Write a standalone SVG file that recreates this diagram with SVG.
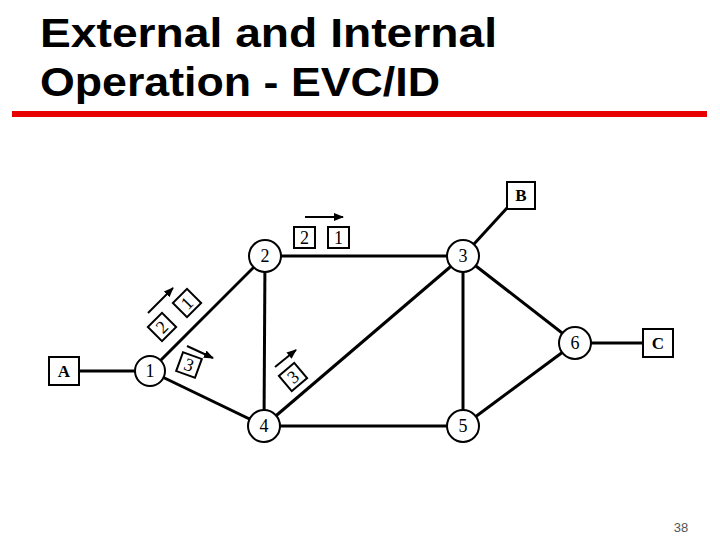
<svg xmlns="http://www.w3.org/2000/svg" width="720" height="540" viewBox="0 0 720 540">
<defs>
<style>
.title{font-family:"Liberation Sans",Arial,sans-serif;font-weight:bold;font-size:41px;fill:#000}
.edge{stroke:#000;stroke-width:3;fill:none}
.node circle{fill:#fff;stroke:#000;stroke-width:2}
.node rect,.lbl rect{fill:#fff;stroke:#000;stroke-width:2}
.t{font-family:"Liberation Serif","Times New Roman",serif;font-size:18px;fill:#000;text-anchor:middle;dominant-baseline:central}
.tb{font-family:"Liberation Serif","Times New Roman",serif;font-size:17px;font-weight:bold;fill:#000;text-anchor:middle;dominant-baseline:central}
.arr{stroke:#000;stroke-width:2;fill:none;marker-end:url(#ah)}
</style>
<marker id="ah" viewBox="0 0 10 10" refX="9" refY="5" markerWidth="5" markerHeight="5" orient="auto" markerUnits="strokeWidth">
<path d="M0,1 L10,5 L0,9 z" fill="#000"/>
</marker>
</defs>
<rect width="720" height="540" fill="#fff"/>
<text class="title" x="40" y="47" textLength="457" lengthAdjust="spacingAndGlyphs">External and Internal</text>
<text class="title" x="40" y="96" textLength="400" lengthAdjust="spacingAndGlyphs">Operation - EVC/ID</text>
<rect x="12" y="111" width="695" height="6" fill="#e80000"/>

<g id="connectors">
<line class="edge" x1="79" y1="371" x2="135" y2="371"/>
<line class="edge" x1="150" y1="371" x2="265" y2="256"/>
<line class="edge" x1="150" y1="371" x2="264" y2="426"/>
<line class="edge" x1="265" y1="256" x2="463" y2="256"/>
<line class="edge" x1="265" y1="256" x2="264" y2="426"/>
<line class="edge" x1="463" y1="256" x2="264" y2="426"/>
<line class="edge" x1="463" y1="256" x2="463" y2="426"/>
<line class="edge" x1="463" y1="256" x2="575" y2="343"/>
<line class="edge" x1="463" y1="256" x2="507" y2="208"/>
<line class="edge" x1="264" y1="426" x2="463" y2="426"/>
<line class="edge" x1="463" y1="426" x2="575" y2="343"/>
<line class="edge" x1="575" y1="343" x2="643" y2="343"/>
</g>

<g id="labels" class="lbl">
<line class="arr" x1="305" y1="217" x2="343" y2="217"/>
<rect x="294" y="227" width="21" height="21"/><text class="t" x="304.5" y="237.5">2</text>
<rect x="328" y="227" width="21" height="21"/><text class="t" x="338.5" y="237.5">1</text>
<line class="arr" x1="148" y1="313" x2="173" y2="288"/>
<g transform="translate(187,303) rotate(-45)"><rect x="-10" y="-10" width="20" height="20"/><text class="t" x="0" y="0">1</text></g>
<g transform="translate(162,327) rotate(-45)"><rect x="-10" y="-10" width="20" height="20"/><text class="t" x="0" y="0">2</text></g>
<line class="arr" x1="187" y1="346" x2="213" y2="358"/>
<g transform="translate(189,365) rotate(20)"><rect x="-10" y="-10" width="20" height="20"/><text class="t" x="0" y="0">3</text></g>
<line class="arr" x1="275" y1="367" x2="296" y2="350"/>
<g transform="translate(293,377) rotate(-40)"><rect x="-10" y="-10" width="20" height="20"/><text class="t" x="0" y="0">3</text></g>
</g>

<g id="A" class="node"><rect x="49" y="357" width="30" height="28"/><text class="tb" x="64" y="371">A</text></g>
<g id="B" class="node"><rect x="507" y="182" width="28" height="27"/><text class="tb" x="521" y="195.5">B</text></g>
<g id="C" class="node"><rect x="643" y="329" width="30" height="28"/><text class="tb" x="658" y="343">C</text></g>
<g id="n1" class="node"><circle cx="150" cy="371" r="15"/><text class="t" x="150" y="371">1</text></g>
<g id="n2" class="node"><circle cx="265" cy="256" r="16"/><text class="t" x="265" y="256">2</text></g>
<g id="n3" class="node"><circle cx="463" cy="256" r="16"/><text class="t" x="463" y="256">3</text></g>
<g id="n4" class="node"><circle cx="264" cy="426" r="16"/><text class="t" x="264" y="426">4</text></g>
<g id="n5" class="node"><circle cx="463" cy="426" r="16"/><text class="t" x="463" y="426">5</text></g>
<g id="n6" class="node"><circle cx="575" cy="343" r="16"/><text class="t" x="575" y="343">6</text></g>

<text x="681" y="532" font-family="Liberation Sans,Arial,sans-serif" font-size="13" fill="#555" text-anchor="middle">38</text>
</svg>
